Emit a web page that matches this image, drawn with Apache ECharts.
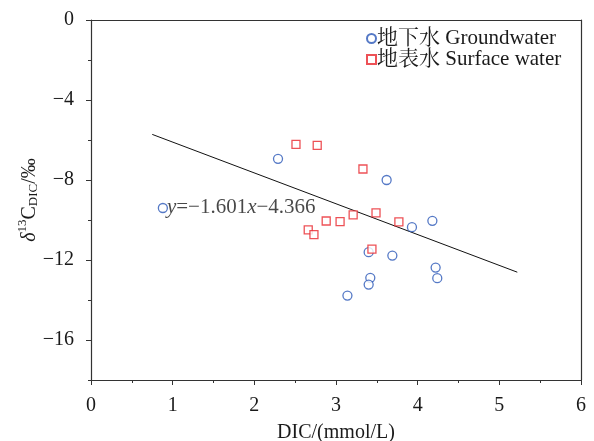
<!DOCTYPE html>
<html>
<head>
<meta charset="utf-8">
<script src="https://cdn.jsdelivr.net/npm/echarts@6/dist/echarts.min.js"></script>
<style>html,body{margin:0;padding:0;background:#fff}#c{width:594px;height:441px}</style>
</head>
<body>
<div id="c"></div>
<script>
// DIC (mmol/L), δ13C_DIC (‰)
const groundwater = [
  [0.88, -9.40], [2.29, -6.94], [3.62, -8.00], [3.93, -10.36], [4.18, -10.04],
  [3.40, -11.61], [3.69, -11.78], [4.22, -12.38], [4.24, -12.91], [3.42, -12.89],
  [3.40, -13.23], [3.14, -13.78]
];
const surfaceWater = [
  [2.51, -6.22], [2.77, -6.27], [3.33, -7.45], [3.49, -9.64], [3.77, -10.09],
  [3.21, -9.74], [3.05, -10.08], [2.88, -10.05], [2.66, -10.49], [2.73, -10.73],
  [3.44, -11.46]
];
const fitLine = [[0.75, -5.72], [5.22, -12.61]];
const equationPos = [[0.93, -9.39]];
const seriesNames = ['地下水 Groundwater', '地表水 Surface water'];
const yTickLabels = [0, -4, -8, -12, -16];
const yMinorTicks = [-18, -14, -10, -6, -2];

const FONT = '"Liberation Serif", "Times New Roman", "Noto Serif CJK SC", "Noto Sans CJK SC", serif';
const TXT = '#1a1a1a';
const minus = v => (v < 0 ? '\u2212' + Math.abs(v) : String(v));

const chart = echarts.init(document.getElementById('c'), null, {renderer: 'canvas'});
chart.setOption({
  animation: false,
  backgroundColor: '#fff',
  textStyle: {fontFamily: FONT, color: TXT},
  grid: {left: 91, right: 13, top: 20, bottom: 61, containLabel: false, outerBoundsMode: 'none'},
  legend: {
    orient: 'vertical', left: 361, top: 23, itemGap: 0, itemWidth: 9, itemHeight: 9,
    data: seriesNames,
    textStyle: {fontFamily: FONT, fontSize: 21, color: TXT, padding: [0, 0, 0, -4]}
  },
  xAxis: [{
    type: 'value', min: 0, max: 6, interval: 1, position: 'bottom',
    name: 'DIC/(mmol/L)', nameLocation: 'middle', nameGap: 43,
    nameTextStyle: {fontFamily: FONT, fontSize: 20, color: TXT},
    axisLine: {show: true, onZero: false, lineStyle: {color: '#333', width: 1.2}},
    axisTick: {show: true, length: 5, lineStyle: {color: '#333'}},
    minorTick: {show: true, splitNumber: 2, length: 3, lineStyle: {color: '#333'}},
    axisLabel: {fontFamily: FONT, fontSize: 20, color: TXT, margin: 16},
    splitLine: {show: false}
  }, {
    type: 'value', min: 0, max: 6, interval: 1, position: 'top',
    axisLine: {show: true, onZero: false, lineStyle: {color: '#333', width: 1.2}},
    axisTick: {show: false}, axisLabel: {show: false}, splitLine: {show: false}
  }],
  yAxis: [{
    type: 'value', min: -18, max: 0, position: 'left',
    name: '{d|δ}{sup|13}{c|C}{sub|DIC}{c|/‰}', nameLocation: 'middle', nameGap: 51, nameRotate: 90,
    nameMoveOverlap: false,
    nameTextStyle: {
      fontFamily: FONT, fontSize: 20, color: TXT,
      rich: {
        d: {fontFamily: FONT, fontSize: 20, fontStyle: 'italic', color: TXT, lineHeight: 24, verticalAlign: 'bottom'},
        c: {fontFamily: FONT, fontSize: 20, color: TXT, lineHeight: 24, verticalAlign: 'bottom'},
        sup: {fontFamily: FONT, fontSize: 13, color: TXT, lineHeight: 24, verticalAlign: 'top', padding: [0, 0, 10, 0]},
        sub: {fontFamily: FONT, fontSize: 13, color: TXT, lineHeight: 24, verticalAlign: 'bottom', padding: [6, 0, 0, 0]}
      }
    },
    axisLine: {show: true, onZero: false, lineStyle: {color: '#333', width: 1.2}},
    axisTick: {show: true, length: 5, customValues: yTickLabels, lineStyle: {color: '#333'}},
    axisLabel: {show: true, customValues: yTickLabels, fontFamily: FONT, fontSize: 20, color: TXT, margin: 17, formatter: minus},
    splitLine: {show: false}
  }, {
    type: 'value', min: -18, max: 0, position: 'right',
    axisLine: {show: true, onZero: false, lineStyle: {color: '#333', width: 1.2}},
    axisTick: {show: false}, axisLabel: {show: false}, splitLine: {show: false}
  }, {
    type: 'value', min: -18, max: 0, position: 'left',
    axisLine: {show: false},
    axisTick: {show: true, length: 3, customValues: yMinorTicks, lineStyle: {color: '#333'}},
    axisLabel: {show: false}, splitLine: {show: false}
  }],
  series: [{
    name: seriesNames[0], type: 'scatter', data: groundwater,
    symbol: 'circle', symbolSize: 9,
    itemStyle: {color: '#fff', borderColor: '#2a58b8', borderWidth: 1.3}, z: 3
  }, {
    name: seriesNames[1], type: 'scatter', data: surfaceWater,
    symbol: 'rect', symbolSize: 8,
    itemStyle: {color: '#fff', borderColor: '#e8262c', borderWidth: 1.3}, z: 3
  }, {
    name: 'fit', type: 'line', data: fitLine, showSymbol: false, symbol: 'none',
    lineStyle: {color: '#111', width: 1}, z: 2, silent: true
  }, {
    name: 'eq', type: 'scatter', data: equationPos, symbolSize: 0, silent: true,
    label: {
      show: true, position: 'right', distance: 0,
      formatter: '{i|y}{n|=\u22121.601}{i|x}{n|\u22124.366}',
      rich: {
        i: {fontFamily: FONT, fontSize: 21, fontStyle: 'italic', color: TXT},
        n: {fontFamily: FONT, fontSize: 21, color: TXT}
      }
    }
  }]
});
</script>
</body>
</html>
